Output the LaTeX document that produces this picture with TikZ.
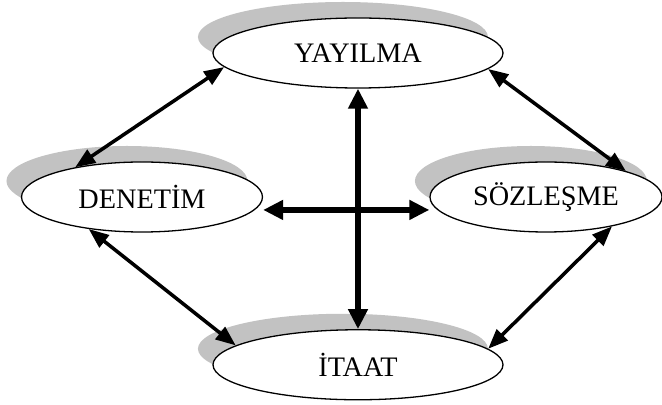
\documentclass[tikz,border=0pt]{standalone}
\usepackage{fontspec}
\setmainfont{Liberation Serif}
\usetikzlibrary{shapes.geometric,shadows,positioning,arrows.meta}
\tikzset{
  concept/.style={
    ellipse,
    draw=black,
    line width=1.1pt,
    fill=white,
    inner sep=0pt,
    minimum width=#1,
    minimum height=59.5pt,
    font=\fontsize{24}{28}\selectfont,
    drop shadow={shadow xshift=-12.8pt,shadow yshift=13.6pt,fill=black!24,opacity=1}
  },
  link/.style={{Triangle[length=17pt,width=13pt]}-{Triangle[length=17pt,width=13pt]},line width=3pt},
  cross/.style={{Triangle[length=17pt,width=16pt]}-{Triangle[length=17pt,width=16pt]},line width=4.6pt}
}
\begin{document}
\begin{tikzpicture}[on grid]
  \useasboundingbox (-304.3pt,45.05pt) rectangle (258.4pt,-299.2pt);

  \node[concept=246.5pt] (yay) at (0,0) {YAYILMA};
  \node[concept=246.5pt,below=265pt of yay] (itaat) {İTAAT};
  \node[concept=204.8pt,below left=122.4pt and 183.6pt of yay] (den) {DENETİM};
  \node[concept=197.2pt,below right=122.4pt and 159.8pt of yay] (soz) {SÖZLEŞME};

  \draw[link] (yay.186) -- (den.156);
  \draw[link] (yay.-7) -- (soz.18);
  \draw[link] (den.211) -- (itaat.171);
  \draw[link] (soz.-24) -- (itaat.7);

  \draw[cross] (yay.south) -- (itaat.north);
  \draw[cross] ([yshift=-11pt]den.east) -- ([yshift=-11pt]soz.west);
\end{tikzpicture}
\end{document}
